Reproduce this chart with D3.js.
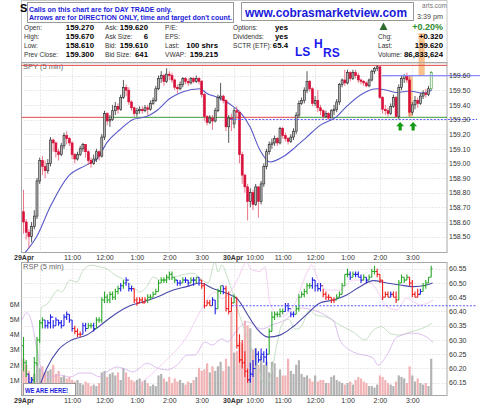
<!DOCTYPE html>
<html>
<head>
<meta charset="utf-8">
<style>
  body { margin: 0; background: #fff; }
  svg { display: block; font-family: "Liberation Sans", Arial, sans-serif; }
  .grid line { stroke: #d4d4d4; stroke-dasharray: 1,2; }
  .axis path, .axis line { display: none; }
  .axis text { fill: #333; font-size: 7px; }
  .hl { font-size: 6.6px; fill: #333; }
  .hv { font-size: 7.8px; font-weight: bold; fill: #000; }
</style>
</head>
<body>
<svg width="480" height="406"></svg>
<script src="https://d3js.org/d3.v7.min.js"></script>
<script>
// ---- SPY 5 min candles (29Apr 9:30 .. 30Apr 3:35), open = previous close
var dayStart = [0, 78];
var dayOpen = [158.67, 159.27];
var spyClose = [
  158.60,158.53,158.50,158.57,158.64,158.88,159.02,158.98,158.95,159.00,
  159.16,159.14,159.08,159.06,159.12,159.19,159.17,159.14,159.06,159.03,
  159.06,159.10,159.13,159.08,159.02,159.00,159.03,159.08,159.05,159.18,
  159.34,159.29,159.30,159.36,159.39,159.37,159.45,159.52,159.50,159.42,
  159.38,159.34,159.36,159.37,159.36,159.38,159.37,159.41,159.43,159.51,
  159.58,159.60,159.56,159.61,159.60,159.57,159.52,159.51,159.54,159.58,
  159.56,159.55,159.58,159.56,159.58,159.56,159.47,159.32,159.28,159.31,
  159.29,159.36,159.45,159.46,159.43,159.25,159.31,159.30,
  159.36,159.35,159.06,158.92,158.84,158.74,158.80,158.72,158.84,158.74,
  158.86,158.98,159.08,159.13,159.14,159.17,159.14,159.24,159.19,159.17,
  159.15,159.18,159.22,159.33,159.41,159.43,159.50,159.56,159.51,159.41,
  159.43,159.38,159.36,159.32,159.34,159.31,159.36,159.37,159.42,159.54,
  159.57,159.55,159.62,159.58,159.62,159.60,159.57,159.56,159.55,159.53,
  159.57,159.63,159.65,159.66,159.45,159.37,159.36,159.34,159.39,159.45,
  159.32,159.52,159.58,159.60,159.57,159.35,159.40,159.43,159.41,159.46,
  159.48,159.47,159.51,159.62
];
var spyHigh = [
  158.82,158.62,158.55,158.60,158.68,158.90,159.04,159.05,159.02,159.03,
  159.18,159.17,159.15,159.10,159.14,159.21,159.22,159.18,159.15,159.07,
  159.08,159.12,159.14,159.13,159.09,159.04,159.06,159.10,159.09,159.20,
  159.36,159.35,159.33,159.40,159.42,159.41,159.47,159.57,159.54,159.52,
  159.43,159.39,159.38,159.39,159.39,159.40,159.40,159.43,159.45,159.53,
  159.60,159.63,159.61,159.65,159.63,159.62,159.58,159.54,159.56,159.59,
  159.59,159.58,159.59,159.59,159.60,159.59,159.57,159.48,159.33,159.33,
  159.33,159.38,159.47,159.55,159.47,159.44,159.33,159.34,
  159.38,159.39,159.36,159.08,158.93,158.86,158.83,158.82,158.86,158.84,
  158.88,159.00,159.10,159.15,159.17,159.19,159.18,159.25,159.25,159.21,
  159.18,159.20,159.24,159.35,159.43,159.45,159.52,159.63,159.57,159.52,
  159.46,159.50,159.40,159.37,159.36,159.35,159.37,159.40,159.44,159.55,
  159.58,159.64,159.64,159.63,159.64,159.64,159.62,159.58,159.57,159.56,
  159.58,159.64,159.66,159.67,159.66,159.46,159.40,159.38,159.41,159.47,
  159.46,159.54,159.60,159.61,159.62,159.60,159.42,159.46,159.45,159.48,
  159.50,159.51,159.53,159.63
];
var spyLow = [
  158.52,158.48,158.42,158.46,158.55,158.62,158.86,158.92,158.90,158.93,
  158.98,159.08,159.04,159.02,159.05,159.10,159.13,159.12,159.03,159.00,
  159.02,159.05,159.08,159.04,158.99,158.97,158.99,159.01,159.02,159.04,
  159.16,159.26,159.25,159.29,159.33,159.34,159.36,159.44,159.46,159.40,
  159.36,159.32,159.32,159.34,159.34,159.35,159.33,159.36,159.40,159.42,
  159.50,159.55,159.53,159.55,159.57,159.55,159.50,159.48,159.50,159.52,
  159.54,159.53,159.54,159.55,159.55,159.54,159.45,159.29,159.26,159.27,
  159.23,159.28,159.35,159.43,159.41,159.22,159.14,159.22,
  159.24,159.30,159.00,158.86,158.80,158.61,158.70,158.68,158.71,158.63,
  158.72,158.84,158.96,159.06,159.10,159.12,159.12,159.13,159.17,159.15,
  159.13,159.14,159.16,159.20,159.31,159.40,159.41,159.48,159.49,159.39,
  159.39,159.35,159.33,159.30,159.31,159.30,159.31,159.33,159.35,159.40,
  159.52,159.53,159.54,159.56,159.57,159.58,159.55,159.54,159.53,159.52,
  159.52,159.56,159.61,159.63,159.44,159.34,159.33,159.32,159.33,159.38,
  159.31,159.30,159.50,159.55,159.55,159.32,159.33,159.37,159.38,159.40,
  159.44,159.45,159.46,159.50
];
var spyMaIdx = [0.6,4.9,9.8,16.5,23.4,27.7,30.8,35.7,40.6,45.6,49.3,54.3,59.1,65.4,67.8,72.8,77.6,
  80.2,83.9,87.6,91.3,96.1,100.6,104.9,109.8,116,119.7,125.9,130.8,134.5,138.2,143.1,147.5,151.2];
var spyMaVal = [158.39,158.50,158.70,158.91,158.99,159.04,159.14,159.23,159.30,159.32,159.36,159.445,159.49,159.51,159.48,159.445,159.39,
  159.35,159.25,159.09,159.01,159.045,159.11,159.18,159.26,159.32,159.39,159.48,159.51,159.50,159.485,159.495,159.48,159.50];

// ---- RSP 5 min bars
var rspFirstOpen = 60.28;
var rspClose = [
  60.22,60.18,60.15,60.16,60.22,60.30,60.36,60.37,60.35,60.36,
  60.38,60.35,60.37,60.36,60.35,60.38,60.39,60.37,60.34,60.33,
  60.32,60.32,60.35,60.34,60.35,60.35,60.34,60.37,60.37,60.44,
  60.45,60.44,60.46,60.45,60.47,60.48,60.49,60.50,60.51,60.48,
  60.48,60.44,60.43,60.44,60.43,60.44,60.45,60.45,60.46,60.47,
  60.50,60.51,60.51,60.52,60.53,60.52,60.51,60.50,60.50,60.51,
  60.51,60.50,60.51,60.51,60.52,60.51,60.49,60.42,60.43,60.42,
  60.44,60.41,60.47,60.49,60.48,60.41,60.40,60.43,
  60.45,60.28,60.23,60.22,60.19,60.16,60.18,60.20,60.25,60.23,
  60.25,60.24,60.25,60.33,60.38,60.39,60.39,60.40,60.40,60.42,
  60.41,60.39,60.39,60.41,60.45,60.46,60.47,60.49,60.49,60.51,
  60.49,60.48,60.49,60.46,60.45,60.45,60.44,60.44,60.45,60.46,
  60.49,60.53,60.53,60.52,60.53,60.53,60.52,60.51,60.52,60.51,
  60.52,60.54,60.54,60.53,60.51,60.45,60.46,60.45,60.46,60.45,
  60.44,60.50,60.52,60.51,60.52,60.50,60.46,60.45,60.46,60.47,
  60.49,60.50,60.52,60.55
];
var rspHigh = [
  60.31,60.23,60.18,60.17,60.24,60.31,60.37,60.38,60.37,60.37,
  60.39,60.37,60.38,60.37,60.37,60.39,60.40,60.39,60.37,60.35,
  60.34,60.33,60.36,60.36,60.36,60.36,60.36,60.38,60.38,60.45,
  60.47,60.46,60.47,60.47,60.48,60.49,60.50,60.51,60.52,60.50,
  60.49,60.48,60.45,60.45,60.45,60.45,60.46,60.46,60.47,60.48,
  60.51,60.52,60.52,60.53,60.54,60.54,60.52,60.51,60.51,60.52,
  60.52,60.51,60.52,60.52,60.52,60.52,60.51,60.50,60.44,60.44,
  60.45,60.44,60.48,60.49,60.49,60.49,60.47,60.45,
  60.46,60.45,60.32,60.30,60.26,60.20,60.22,60.23,60.27,60.26,
  60.27,60.26,60.27,60.34,60.40,60.40,60.40,60.41,60.41,60.43,
  60.43,60.40,60.40,60.42,60.46,60.47,60.48,60.50,60.50,60.52,
  60.51,60.50,60.50,60.48,60.47,60.46,60.45,60.45,60.46,60.47,
  60.50,60.53,60.55,60.54,60.54,60.54,60.54,60.53,60.53,60.52,
  60.53,60.55,60.56,60.55,60.53,60.51,60.47,60.47,60.47,60.47,
  60.47,60.51,60.53,60.52,60.53,60.52,60.51,60.47,60.48,60.48,
  60.50,60.51,60.52,60.56
];
var rspLow = [
  60.19,60.17,60.14,60.14,60.14,60.21,60.29,60.34,60.34,60.34,
  60.34,60.34,60.35,60.35,60.34,60.35,60.37,60.36,60.33,60.32,
  60.31,60.31,60.32,60.33,60.34,60.34,60.33,60.34,60.36,60.36,
  60.43,60.43,60.43,60.44,60.44,60.46,60.47,60.48,60.49,60.47,
  60.47,60.43,60.42,60.43,60.43,60.43,60.43,60.44,60.45,60.46,
  60.47,60.50,60.50,60.50,60.51,60.51,60.50,60.49,60.49,60.50,
  60.50,60.49,60.50,60.49,60.50,60.49,60.48,60.41,60.42,60.42,
  60.42,60.39,60.41,60.46,60.46,60.40,60.39,60.40,
  60.43,60.27,60.22,60.20,60.17,60.15,60.15,60.17,60.21,60.22,
  60.23,60.22,60.21,60.25,60.33,60.37,60.38,60.38,60.39,60.40,
  60.40,60.38,60.38,60.39,60.40,60.45,60.45,60.46,60.48,60.48,
  60.47,60.47,60.47,60.45,60.44,60.44,60.43,60.43,60.44,60.45,
  60.46,60.49,60.52,60.51,60.52,60.52,60.52,60.50,60.51,60.50,
  60.51,60.52,60.53,60.52,60.50,60.44,60.45,60.45,60.45,60.45,
  60.43,60.44,60.50,60.50,60.51,60.49,60.45,60.45,60.45,60.46,
  60.47,60.48,60.50,60.52
];
// impulse colour per bar: g = green, b = blue, r = red
var rspImpulse = ("ggbbggggbbbbbbbbbbbrrrbbggbggg" + "ggggggbgbbbrrrrrgggggggggggbbg" +
  "bbgbgbrrrrbbggbrrr" + "grrrrrbbbbbbbggggggbbbbggggggb" + "bbbrrrrrgggggbgbbbgbgggrrrrrbr" +
  "rggggrrrrbgggg").split("");
var rspMaIdx = [4.9,8.6,12.9,17.8,23.4,28.3,33.9,39.4,44.4,49.3,55.5,60.4,65.4,70.3,75.3,79.6,82.9,86.4,
  90.7,95,99.9,104.9,109.8,114.7,119.7,124.6,129.6,134.5,139.4,144.3,149.3,151.5];
var rspMaVal = [60.11,60.20,60.265,60.30,60.317,60.35,60.39,60.42,60.434,60.45,60.475,60.487,60.50,60.48,60.464,60.44,60.39,60.34,
  60.31,60.317,60.347,60.39,60.43,60.44,60.458,60.487,60.508,60.50,60.493,60.487,60.493,60.50];
// faint comparison lines (in RSP price units)
var greenIdx = [5.5,6.7,8.6,12.9,14.1,17.2,19.7,22.1,23.4,25.3,28.3,30.8,33.9,37.6,40.7,43.1,45.6,48.1,50.6,54.3,
  58.6,62.9,65.4,68.4,70.9,72.1,73.4,75.7,79.6,83.9,86.4,89.4,91.9,93.8,95.6,98.1,100.6,102.4,106.1,108,
  112.3,117.2,122.1,126.5,129.6,132.7,135.7,139.4,143.1,147.5,151.2];
var greenVal = [60.16,60.415,60.425,60.475,60.468,60.51,60.503,60.545,60.556,60.562,60.556,60.55,60.528,60.51,60.486,60.468,60.486,60.521,60.51,60.516,
  60.528,60.534,60.516,60.5,60.573,60.538,60.563,60.515,60.398,60.282,60.223,60.142,60.188,60.282,60.352,60.373,60.338,60.342,60.405,60.388,
  60.38,60.352,60.328,60.30,60.335,60.346,60.323,60.317,60.328,60.34,60.358];
var violetIdx = [-0.6,1.3,3.1,5,7.2,9.8,13.5,17.2,20.9,24.6,28.3,30.9,34.6,38.3,40.6,43.1,45.7,49.4,53.1,56.9,
  60.6,63.5,67.2,69.8,73.5,75.7,77.2,79.4,83.1,88.3,91.3,96.9,102.4,114.6,117.2,122,129.4,131.3,134.6,138.3,144.3,149.4,151.7];
var violetVal = [60.37,60.395,60.36,60.265,60.184,60.17,60.177,60.17,60.184,60.184,60.17,60.188,60.205,60.195,60.188,60.202,60.219,60.202,60.195,60.212,
  60.247,60.247,60.293,60.282,60.304,60.293,60.31,60.338,60.363,60.338,60.35,60.37,60.412,60.37,60.30,60.258,60.237,60.212,60.247,60.31,60.324,60.31,60.29];
var pinkIdx = [41.9,53,60.4,65.4,70.9,73.5,75.7,79.4,82.7,83.9,87.6,89.4,91.3,95,99.9,104.9,106.7,109.2,112.3,117.2,
  122.1,125.9,129.6,134.5,138.2,141.9,146.9,151.8];
var pinkVal = [60.136,60.23,60.31,60.399,60.468,60.445,60.458,60.515,60.573,60.551,60.54,60.557,60.429,60.382,60.417,60.534,60.563,60.51,60.475,60.475,
  60.51,60.51,60.493,60.417,60.405,60.446,60.423,60.44];

// ---- volume (millions)
var volume = [
  2.4,2.0,1.6,1.2,1.4,2.1,1.8,1.9,1.5,1.6, 1.7,2.0,1.4,1.6,1.2,1.3,1.1,1.2,1.0,0.9,
  1.0,0.8,0.7,0.9,0.8,0.6,0.7,0.6,0.8,1.5, 1.6,1.2,1.4,1.5,1.3,1.5,1.0,1.8,1.5,1.2,
  1.0,0.9,1.0,1.1,0.9,1.0,0.8,0.6,0.7,0.6, 1.3,1.4,1.1,0.9,1.2,0.8,1.1,0.9,1.0,0.8,
  0.7,0.9,0.8,1.0,1.2,1.8,1.6,1.7,2.1,1.5, 1.9,1.6,1.9,2.2,1.6,2.4,1.9,5.5,
  2.8,2.9,3.5,3.4,4.9,4.6,4.4,3.0,3.1,2.0, 2.6,2.0,2.2,1.5,2.2,2.1,1.2,1.7,1.3,1.3,
  2.4,1.6,1.4,2.0,2.3,1.4,1.2,1.3,1.1,0.9, 1.3,0.9,1.0,1.0,0.8,0.8,1.2,1.3,1.0,0.9,
  0.8,0.7,0.8,0.9,0.7,1.0,1.2,1.1,0.9,0.8, 0.6,0.6,0.5,0.7,1.3,1.2,1.0,0.8,0.7,0.6,
  0.9,1.3,1.2,1.1,0.8,1.9,1.3,0.9,1.1,0.8, 0.7,0.8,0.6,2.4
];

// ---- axes / levels
var priceTicks = [158.5,158.6,158.7,158.8,158.9,159.0,159.1,159.2,159.3,159.4,159.5,159.6];
var rspTicks = [60.15,60.20,60.25,60.30,60.35,60.40,60.45,60.50,60.55];
var volTicks = [1,2,3,4,5,6];
var gridIdx = [6,18,30,42,54,66,78,84,96,108,120,132,144];
var timeIdx = [0,18,30,42,54,66,85.6,96,108,120,132,144,77.4];
var timeLabels = ["29Apr","11:00","12:00","1:00","2:00","3:00","10:00","11:00","12:00","1:00","2:00","3:00","30Apr"];
var dayHigh = 159.67;
var supportLevel = 159.315;
var redSpans = [[-0.8,29.5],[76.8,102.3]];
var greenSpans = [[29.5,76.8],[102.3,156.8]];
var prevClose = 159.30;
var resistLevel = 159.60;
var rspLevel = 60.42;
var boxIdx = [[142.4,144.2],[146.3,148.6]];
var boxPrice = [[159.32,159.60],[159.60,159.89]];
var arrowIdx = [139.5,144.3];
var arrowPrice = 159.29;

var svg = d3.select("svg");
var x = d3.scaleLinear().domain([0,151]).range([23.5,431.2]);
var yP = d3.scaleLinear().domain([158.5,159.6]).range([236.6,75.6]);
var yR = d3.scaleLinear().domain([60.15,60.55]).range([382.7,268.7]);
var yV = d3.scaleLinear().domain([0,6]).range([395.2,304]);
var L = 21.5, R = 447, mT = 62.5, mB = 252.5, lT = 262.5, lB = 395.5;

svg.append("defs").call(function(d) {
  d.append("clipPath").attr("id","cm").append("rect").attr("x",L).attr("y",mT).attr("width",R-L).attr("height",mB-mT);
  d.append("clipPath").attr("id","cl").append("rect").attr("x",L).attr("y",lT).attr("width",R-L).attr("height",lB-lT);
});

// header frame
svg.append("rect").attr("x",L).attr("y",0.5).attr("width",R-L).attr("height",mT).attr("fill","#fff").attr("stroke","#c8c8c8");

// orange highlight boxes (behind everything else)
svg.append("g").selectAll("rect").data(boxIdx).enter().append("rect")
  .attr("x", function(d) { return x(d[0]); })
  .attr("width", function(d) { return x(d[1]) - x(d[0]); })
  .attr("y", function(d, i) { return yP(boxPrice[i][1]); })
  .attr("height", function(d, i) { return yP(boxPrice[i][0]) - yP(boxPrice[i][1]); })
  .attr("fill","#f7b77a").attr("opacity",0.85);

// ---- header texts
svg.append("text").attr("x",20).attr("y",12).attr("font-size",11).attr("font-weight","bold").text("S");
svg.append("text").attr("x",447).attr("y",8).attr("text-anchor","end")
  .attr("font-size",6.5).attr("fill","#777").text("arts.com");
svg.append("text").attr("x",443).attr("y",19).attr("text-anchor","end").attr("font-size",7.2).attr("fill","#444").text("3:39 pm");
svg.append("path").attr("d","M383.5,22.5 L387.5,30 L379.5,30 Z").attr("fill","#2e6b2e");
svg.append("text").attr("x",443).attr("y",29.5).attr("text-anchor","end").attr("font-size",9).attr("font-weight","bold").attr("fill","#2e8b2e").text("+0.20%");

var rowsY = [29.5,38.5,47.5,56.5];
var hdrCols = [
  { lx: 24, vx: 94, labels: ["Open:","High:","Low:","Prev Close:"], values: ["159.270","159.670","158.610","159.300"] },
  { lx: 105, vx: 148, labels: ["Ask:","Ask Size:","Bid:","Bid Size:"], values: ["159.620","6","159.610","641"] },
  { lx: 165, vx: 218, labels: ["P/E:","EPS:","Last:","VWAP:"], values: ["","","100 shrs","159.215"] },
  { lx: 233, vx: 288, labels: ["Options:","Dividends:","SCTR (ETF):",""], values: ["yes","yes","65.4",""] },
  { lx: 378, vx: 443, labels: ["","Chg:","Last:","Volume:"], values: ["","+0.320","159.620","86,833,624"] }
];
hdrCols.forEach(function(c) {
  c.labels.forEach(function(t, i) {
    if (t) svg.append("text").attr("class","hl").attr("x",c.lx).attr("y",rowsY[i]).text(t);
    if (c.values[i]) svg.append("text").attr("class","hv").attr("x",c.vx).attr("y",rowsY[i]).attr("text-anchor","end").text(c.values[i]);
  });
});
var lsh = svg.append("g").attr("fill","#1a1aee").attr("font-weight","bold").attr("font-size",12);
lsh.append("text").attr("x",295).attr("y",56).text("LS");
lsh.append("text").attr("x",314).attr("y",47.5).text("H");
lsh.append("text").attr("x",323).attr("y",56.5).text("RS");

// note boxes
svg.append("rect").attr("x",27.5).attr("y",2.5).attr("width",206).attr("height",20).attr("fill","#fff").attr("stroke","#999");
svg.append("text").attr("x",29).attr("y",11.5).attr("font-size",7.6).attr("font-weight","bold").attr("fill","#1a1adb")
  .attr("textLength",143).attr("lengthAdjust","spacingAndGlyphs").text("Calls on this chart are for DAY TRADE only.");
svg.append("text").attr("x",29).attr("y",19.5).attr("font-size",7.6).attr("font-weight","bold").attr("fill","#1a1adb")
  .attr("textLength",203).attr("lengthAdjust","spacingAndGlyphs").text("Arrows are for DIRECTION ONLY, time and target don't count.");
svg.append("rect").attr("x",241.5).attr("y",2.5).attr("width",172).attr("height",18).attr("fill","#fff").attr("stroke","#999");
svg.append("text").attr("x",245).attr("y",17).attr("font-size",12.5).attr("font-weight","bold").attr("fill","#1a1adb")
  .attr("textLength",162).attr("lengthAdjust","spacingAndGlyphs").text("www.cobrasmarketview.com");

// ---- panels
[[mT,mB],[lT,lB]].forEach(function(p) {
  svg.append("rect").attr("x",L).attr("y",p[0]).attr("width",R-L).attr("height",p[1]-p[0])
    .attr("fill","none").attr("stroke","#a8a8a8");
});

function grid(yScale, ticks, top, bottom) {
  var g = svg.append("g").attr("class","grid");
  g.selectAll("line.h").data(ticks).enter().append("line")
    .attr("x1",L).attr("x2",R).attr("y1",function(d){return Math.round(yScale(d))+0.5;}).attr("y2",function(d){return Math.round(yScale(d))+0.5;});
  g.selectAll("line.v").data(gridIdx).enter().append("line")
    .attr("y1",top).attr("y2",bottom).attr("x1",function(d){return Math.round(x(d))+0.5;}).attr("x2",function(d){return Math.round(x(d))+0.5;});
}
grid(yP, priceTicks, mT, mB);
grid(yR, rspTicks, lT, lB);

svg.append("text").attr("x",23).attr("y",69).attr("font-size",7.5).attr("fill","#666").text("SPY (5 min)");
svg.append("text").attr("x",23).attr("y",269).attr("font-size",7.5).attr("fill","#666").text("RSP (5 min)");

// ---- main panel marks
var gm = svg.append("g").attr("clip-path","url(#cm)");
gm.append("line").attr("x1",L).attr("x2",R).attr("y1",yP(dayHigh)).attr("y2",yP(dayHigh)).attr("stroke","#e04848");
gm.selectAll("line.rs").data(redSpans).enter().append("line")
  .attr("x1",function(d){return x(d[0]);}).attr("x2",function(d){return x(d[1]);})
  .attr("y1",yP(supportLevel)).attr("y2",yP(supportLevel)).attr("stroke","#e04848");
gm.selectAll("line.gs").data(greenSpans).enter().append("line")
  .attr("x1",function(d){return x(d[0]);}).attr("x2",function(d){return x(d[1]);})
  .attr("y1",yP(supportLevel)).attr("y2",yP(supportLevel)).attr("stroke","#3a9a3a");

var maLine = function(ys) {
  return d3.line().x(function(d){return x(d[0]);}).y(function(d){return ys(d[1]);}).curve(d3.curveMonotoneX);
};
gm.append("path").datum(d3.zip(spyMaIdx, spyMaVal)).attr("d", maLine(yP))
  .attr("fill","none").attr("stroke","#5858c8").attr("stroke-width",1.1);

var candles = spyClose.map(function(c, i) {
  var k = dayStart.indexOf(i);
  var o = k >= 0 ? dayOpen[k] : spyClose[i-1];
  return { i: i, o: o, c: c, h: spyHigh[i], l: spyLow[i], up: c >= o, last: i === spyClose.length - 1 };
});
var cg = gm.append("g").selectAll("g").data(candles).enter().append("g");
cg.append("line")
  .attr("x1",function(d){return x(d.i);}).attr("x2",function(d){return x(d.i);})
  .attr("y1",function(d){return yP(d.h);}).attr("y2",function(d){return yP(d.l);})
  .attr("stroke",function(d){return d.last ? "#3a9a3a" : d.up ? "#444" : "#e8687c";}).attr("stroke-width",0.9);
cg.append("rect")
  .attr("x",function(d){return x(d.i)-1;}).attr("width",2)
  .attr("y",function(d){return yP(Math.max(d.o,d.c));})
  .attr("height",function(d){return Math.max(0.8, Math.abs(yP(d.o)-yP(d.c)));})
  .attr("fill",function(d){return d.last ? "#fff" : d.up ? "#b4b4b4" : "#d8103a";})
  .attr("stroke",function(d){return d.last ? "#3a9a3a" : d.up ? "#222" : "#d8103a";})
  .attr("stroke-width",0.6);

svg.append("line").attr("x1",x(76.8)).attr("x2",477).attr("y1",yP(prevClose)).attr("y2",yP(prevClose))
  .attr("stroke","#5a5aff").attr("stroke-dasharray","2,1.5");
svg.append("line").attr("x1",x(132.7)).attr("x2",480).attr("y1",yP(resistLevel)).attr("y2",yP(resistLevel))
  .attr("stroke","#8a8aff").attr("stroke-width",1.4);

svg.append("g").selectAll("path").data(arrowIdx).enter().append("path")
  .attr("transform",function(d){return "translate(" + x(d) + "," + (yP(arrowPrice)+1) + ")";})
  .attr("d","M0,0 L4,4.2 L1.6,4.2 L1.6,8.5 L-1.6,8.5 L-1.6,4.2 L-4,4.2 Z")
  .attr("fill","#159a15");

// ---- lower panel marks
var gl = svg.append("g").attr("clip-path","url(#cl)");
gl.append("g").selectAll("rect").data(volume).enter().append("rect")
  .attr("x",function(d,i){return x(i)-1.1;}).attr("width",2.2)
  .attr("y",function(d){return yV(d);}).attr("height",function(d){return yV(0)-yV(d);})
  .attr("fill",function(d,i){return candles[i].c >= (i ? spyClose[i-1] : dayOpen[0]) ? "#b3b3b3" : "#f1b3b5";});

var thinLine = function(ix, vals, col) {
  gl.append("path").datum(d3.zip(ix, vals)).attr("d", maLine(yR))
    .attr("fill","none").attr("stroke",col).attr("stroke-width",0.8);
};
thinLine(greenIdx, greenVal, "#b8d8b8");
thinLine(violetIdx, violetVal, "#d6b0ea");
thinLine(pinkIdx, pinkVal, "#f0c4f0");

gl.append("path").datum(d3.zip(rspMaIdx, rspMaVal)).attr("d", maLine(yR))
  .attr("fill","none").attr("stroke","#4848a8").attr("stroke-width",1.1);

var impulseColor = { g: "#2aa82a", b: "#2222e6", r: "#f01c1c" };
var bars = rspClose.map(function(c, i) {
  return { i: i, o: i ? rspClose[i-1] : rspFirstOpen, c: c, h: rspHigh[i], l: rspLow[i], col: impulseColor[rspImpulse[i]] };
});
gl.append("g").selectAll("path").data(bars).enter().append("path")
  .attr("d",function(d){
    var cx = x(d.i);
    return "M" + cx + "," + yR(d.h) + "V" + yR(d.l) +
      "M" + (cx-1.4) + "," + yR(d.o) + "H" + cx +
      "M" + cx + "," + yR(d.c) + "H" + (cx+1.4);
  })
  .attr("fill","none").attr("stroke",function(d){return d.col;}).attr("stroke-width",1.1);

svg.append("line").attr("x1",x(77.2)).attr("x2",477).attr("y1",yR(rspLevel)).attr("y2",yR(rspLevel))
  .attr("stroke","#5a5aff").attr("stroke-dasharray","2,1.5");

svg.append("rect").attr("x",23.5).attr("y",383.5).attr("width",52).attr("height",12).attr("fill","#fff").attr("stroke","#999");
svg.append("text").attr("x",25).attr("y",392.5).attr("font-size",7.5).attr("font-weight","bold").attr("fill","#1a1adb")
  .attr("textLength",43).attr("lengthAdjust","spacingAndGlyphs").text("WE ARE HERE!");

// ---- axes
svg.append("g").attr("class","axis").attr("transform","translate(449,0)")
  .call(d3.axisRight(yP).tickValues(priceTicks).tickFormat(d3.format(".2f")).tickSize(0).tickPadding(0));
svg.append("g").attr("class","axis").attr("transform","translate(449,0)")
  .call(d3.axisRight(yR).tickValues(rspTicks).tickFormat(d3.format(".2f")).tickSize(0).tickPadding(0));
svg.append("g").attr("class","axis").attr("transform","translate(19.5,0)")
  .call(d3.axisLeft(yV).tickValues(volTicks).tickFormat(function(d){return d + "M";}).tickSize(0).tickPadding(0));

[259.5, 402.5].forEach(function(base) {
  var ax = svg.append("g").attr("class","axis").attr("transform","translate(0," + base + ")")
    .call(d3.axisBottom(x).tickValues(timeIdx).tickFormat(function(d, i){return timeLabels[i];}).tickSize(0).tickPadding(0));
  ax.selectAll("text").attr("y",0).attr("dy",0);
  ax.selectAll(".tick").filter(function(d){return d === 0 || d === 77.4;}).select("text")
    .attr("font-weight","bold").attr("font-size",8).attr("fill","#222");
});
</script>
</body>
</html>
